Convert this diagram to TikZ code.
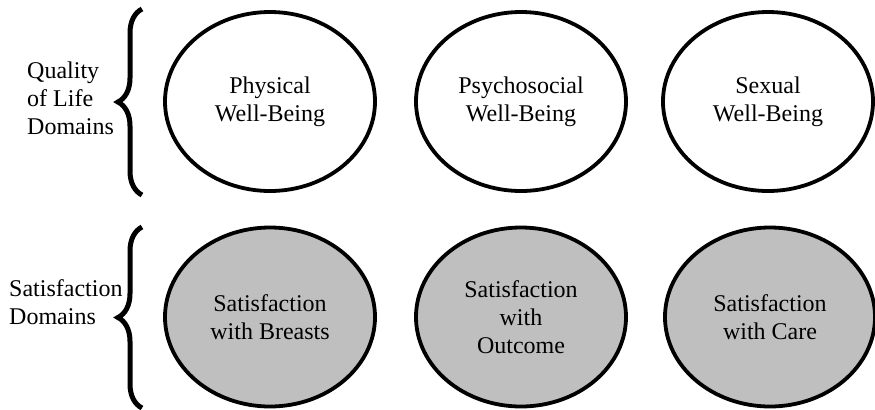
\documentclass[tikz,border=0pt]{standalone}
\usepackage{fontspec}
\setmainfont{Liberation Serif}
\usetikzlibrary{shapes.geometric,decorations.pathreplacing}
\begin{document}
\begin{tikzpicture}[x=1bp,y=-1bp,
  dom/.style={ellipse,draw=black,line width=3.8bp,minimum width=210bp,minimum height=179bp,inner sep=0pt,align=center,font=\fontsize{24bp}{28bp}\selectfont},
  qol/.style={dom,fill=white},
  sat/.style={dom,fill=black!25},
  lab/.style={anchor=west,align=left,inner sep=0pt,font=\fontsize{24bp}{28bp}\selectfont},
  bracestyle/.style={line width=5bp,decorate,decoration={brace,amplitude=24bp}}]
\useasboundingbox (0,0) rectangle (875,409);
\node[qol] (phys) at (270,101.5) {Physical\\Well-Being};
\node[qol] (psych) at (521,101.5) {Psychosocial\\Well-Being};
\node[qol] (sex) at (768,101.5) {Sexual\\Well-Being};
\node[sat] (breasts) at (270,317) {Satisfaction\\with Breasts};
\node[sat] (outcome) at (521,317) {Satisfaction\\with\\Outcome};
\node[sat] (care) at (770,317) {Satisfaction\\with Care};
\node[lab] (qlab) at (27,98) {Quality\\of Life\\Domains};
\node[lab] (slab) at (9,302) {Satisfaction\\Domains};
\coordinate (qb) at (142,195);
\coordinate (qt) at (142,9);
\coordinate (sb) at (142,408);
\coordinate (st) at (142,227);
\draw[bracestyle] (qb) -- (qt);
\draw[bracestyle] (sb) -- (st);
\end{tikzpicture}
\end{document}
